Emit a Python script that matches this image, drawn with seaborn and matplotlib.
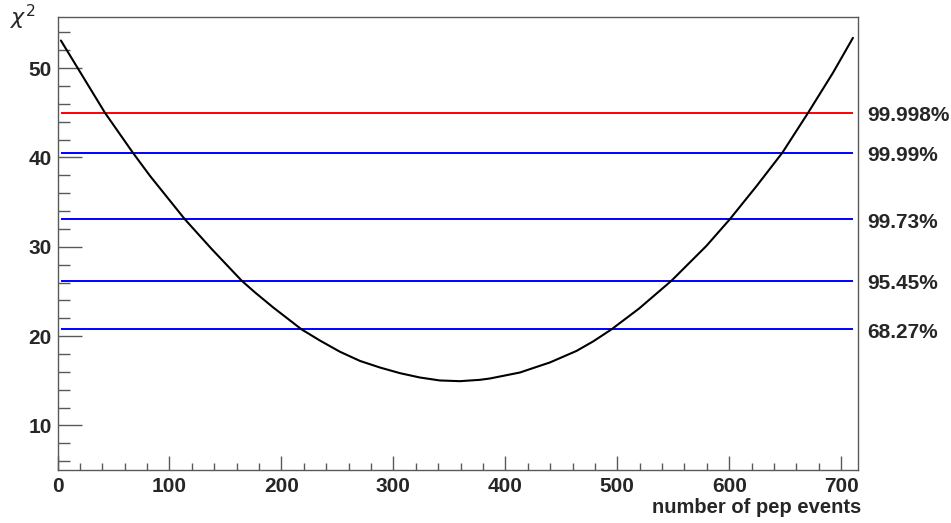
import matplotlib
matplotlib.use("Agg")
import matplotlib.pyplot as plt
from matplotlib.ticker import MultipleLocator
import pandas as pd
import seaborn as sns

# chi-square scan versus the number of pep events
pep_events = [3, 42.4, 67.2, 82.6, 113.8, 137.7, 164.5, 176.3, 192.7, 218,
              234.4, 252.2, 270.1, 288, 305.8, 323.7, 341.5, 359.4, 377.2,
              386.2, 401, 413, 430.8, 439.7, 463.6, 478.4, 494.8, 519.6,
              548.4, 579.6, 600.4, 624.4, 647.5, 670.4, 692.7, 710.5]
chi2_values = [53.1, 45.0, 40.55, 37.94, 33.07, 29.75, 26.2, 24.9, 23.2, 20.75,
               19.5, 18.25, 17.22, 16.48, 15.85, 15.36, 15.03, 14.95, 15.1,
               15.25, 15.62, 15.92, 16.67, 17.04, 18.34, 19.4, 20.75, 23.1,
               26.2, 30.1, 33.07, 36.8, 40.55, 45.0, 49.5, 53.4]

# confidence-level thresholds
cl_labels = ["99.998%", "99.99%", "99.73%", "95.45%", "68.27%"]
cl_levels = [45.0, 40.55, 33.07, 26.2, 20.75]
cl_colors = ["#ff0000", "#0000ff", "#0000ff", "#0000ff", "#0000ff"]

x_ticks = [0, 100, 200, 300, 400, 500, 600, 700]
y_ticks = [10, 20, 30, 40, 50]

sns.set_style("ticks")
plt.rcParams["font.family"] = ["Liberation Sans", "DejaVu Sans"]
plt.rcParams["mathtext.fontset"] = "dejavusans"

fig = plt.figure(figsize=(9.51, 5.23), dpi=100)
ax = fig.add_axes([0.0605, 0.1013, 0.8417, 0.8656])

df = pd.DataFrame({"events": pep_events, "chi2": chi2_values})

for level, color in zip(cl_levels, cl_colors):
    ax.hlines(level, min(pep_events), max(pep_events), color=color, lw=1.4, zorder=2)

sns.lineplot(data=df, x="events", y="chi2", sort=False, estimator=None,
             color="black", lw=1.5, ax=ax, zorder=3)

for lab, level in zip(cl_labels, cl_levels):
    ax.text(723.5, level - 0.3, lab, ha="left", va="center", fontsize=15,
            fontweight="bold", clip_on=False)

ax.set_xlim(0, 715)
ax.set_ylim(5, 55.7)
ax.set_xticks(x_ticks)
ax.set_yticks(y_ticks)
ax.xaxis.set_minor_locator(MultipleLocator(20))
ax.yaxis.set_minor_locator(MultipleLocator(2))

frame_color = "0.35"
for sp in ax.spines.values():
    sp.set_color(frame_color)
    sp.set_linewidth(1.0)
    sp.set_visible(True)

ax.tick_params(axis="y", which="major", direction="in", length=17, width=1,
               color=frame_color, pad=4, labelsize=15)
ax.tick_params(axis="y", which="minor", direction="in", length=8.5, width=1,
               color=frame_color)
ax.tick_params(axis="x", which="major", direction="in", length=10, width=1,
               color=frame_color, pad=5, labelsize=15)
ax.tick_params(axis="x", which="minor", direction="in", length=5, width=1,
               color=frame_color)
for lab in ax.get_xticklabels() + ax.get_yticklabels():
    lab.set_fontweight("bold")

ax.set_xlabel("number of pep events", fontsize=14.5, fontweight="bold",
              ha="right", va="center")
ax.xaxis.set_label_coords(1.004, -0.082)
ax.set_ylabel("")
fig.text(23 / 951, 1 - 17 / 523, r"$\chi^{2}$", fontsize=16, ha="center", va="center")

fig.savefig("out.png", dpi=100)
